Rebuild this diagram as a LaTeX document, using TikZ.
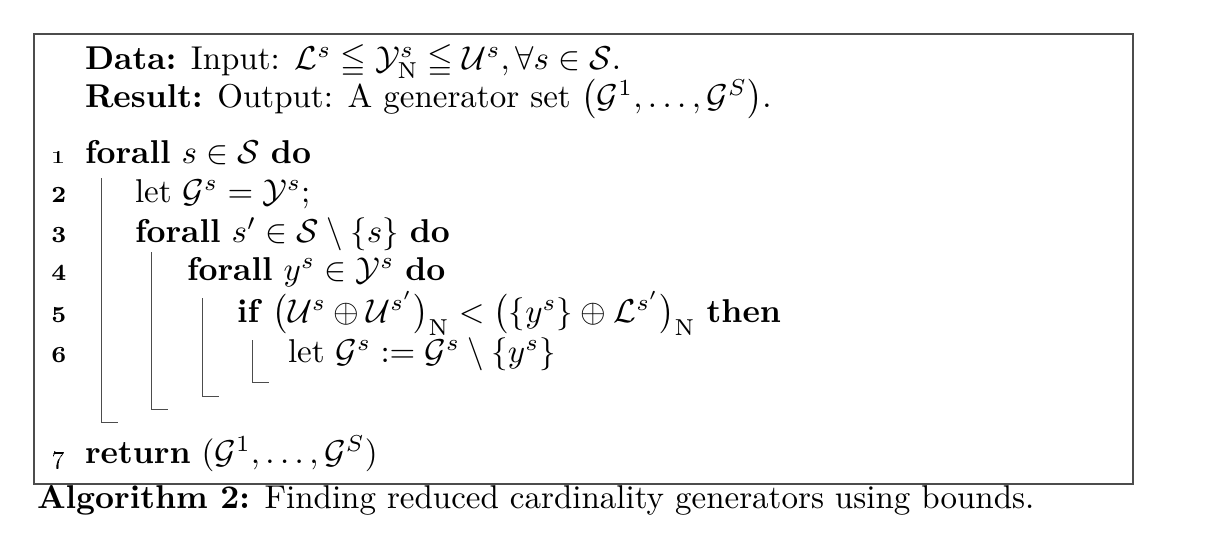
\documentclass[tikz,border=0pt]{standalone}
\usepackage{amsmath,amssymb}
\usetikzlibrary{positioning}

\begin{document}
\begin{tikzpicture}[%
    x=0.303pt, y=-0.303pt,
    % Styles
    codeline/.style={anchor=base west, inner sep=0pt, outer sep=0pt},
    lineno/.style={anchor=base east, inner sep=0pt, font=\scriptsize\bfseries},
    algoframe/.style={draw=black!70, line width=0.45pt},
    blockbar/.style={draw=black!70, line width=0.3pt}
]
\useasboundingbox (0,0) rectangle (1208,552);

% --- 1. Frame ---
\draw[algoframe] (34,34) rectangle (1133,484);

% --- 2. Data / Result ---
\node[codeline] (data) at (85,69) {\textbf{Data:} Input: $\mathcal{L}^s \leqq \mathcal{Y}^s_{\mathrm{N}} \leqq \mathcal{U}^s, \forall s \in \mathcal{S}$.};
\node[codeline] (result) at (85,107) {\textbf{Result:} Output: A generator set $\big(\mathcal{G}^1, \dots, \mathcal{G}^S\big)$.};

% --- 3. Numbered lines ---
\node[lineno, font=\footnotesize] (n1) at (66,163) {{\fontseries{b}\selectfont\oldstylenums{1}}};
\node[lineno] (n2) at (67,202) {2};
\node[lineno] (n3) at (67,242) {3};
\node[lineno] (n4) at (67,280) {4};
\node[lineno] (n5) at (67,322) {5};
\node[lineno] (n6) at (67,362) {6};
\node[lineno, font=\footnotesize] (n7) at (66,463) {{\fontseries{b}\selectfont\oldstylenums{7}}};

\node[codeline] (l1) at (85,163) {\textbf{forall} $s \in \mathcal{S}$ \textbf{do}};
\node[codeline] (l2) at (135,202) {let $\mathcal{G}^s = \mathcal{Y}^s$;};
\node[codeline] (l3) at (135,242) {\textbf{forall} $s' \in \mathcal{S} \setminus \{s\}$ \textbf{do}};
\node[codeline] (l4) at (187,280) {\textbf{forall} $y^s \in \mathcal{Y}^s$ \textbf{do}};
\node[codeline] (l5) at (237,322) {\textbf{if} $\big(\mathcal{U}^s \oplus \mathcal{U}^{s'}\big)_{\mathrm{N}} < \big(\{y^s\} \oplus \mathcal{L}^{s'}\big)_{\mathrm{N}}$ \textbf{then}};
\node[codeline] (l6) at (288,362) {let $\mathcal{G}^s := \mathcal{G}^s \setminus \{y^s\}$};
\node[codeline] (l7) at (85,463) {\textbf{return} $(\mathcal{G}^1, \dots, \mathcal{G}^S)$};

% Block bars
\foreach \bx/\btop/\bbot in {101/178/422, 151/252/409, 202/298/396, 252/340/382}
    \draw[blockbar] (\bx,\btop) -- (\bx,\bbot) -- ++(17,0);

% --- 4. Caption ---
\node[codeline] (caption) at (37,508) {\textbf{Algorithm 2:} Finding reduced cardinality generators using bounds.};

\end{tikzpicture}
\end{document}
